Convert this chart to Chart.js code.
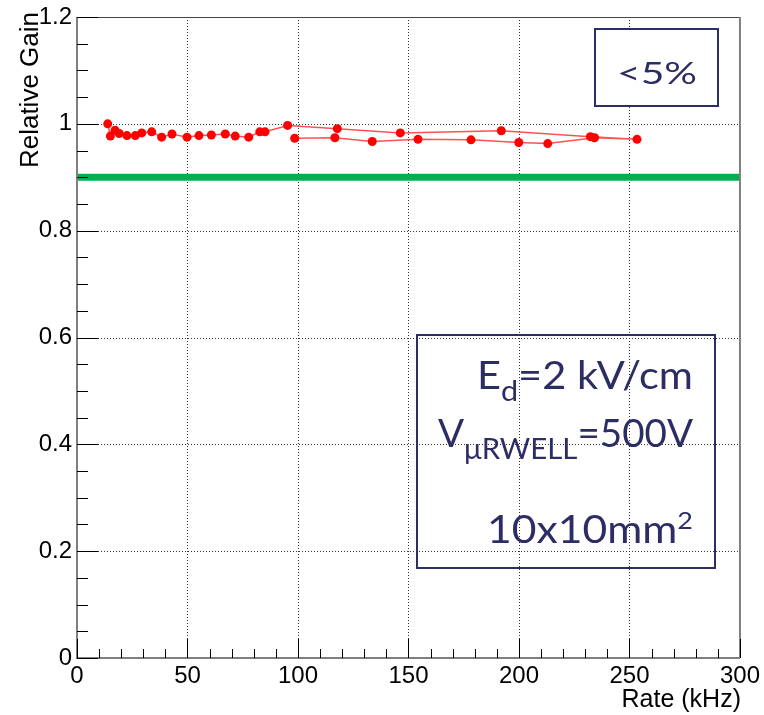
<!DOCTYPE html>
<html>
<head>
<meta charset="utf-8">
<script src="https://cdn.jsdelivr.net/npm/chart.js@4/dist/chart.umd.min.js"></script>
<style>
  html, body { margin: 0; padding: 0; background: #fff; }
  #wrap { width: 764px; height: 715px; }
</style>
</head>
<body>
<div id="wrap"><canvas id="gainChart" width="764" height="715"></canvas></div>
<script>
// Gain stability scan: measurement order (rate going up, then coming back down)
const rateKHz = [13.9, 15.1, 17.2, 19.1, 22.6, 26.4, 29.3, 33.8, 38.3, 43.0,
                 49.8, 55.2, 60.8, 67.1, 71.6, 77.7, 82.7, 85.1, 95.3, 117.8,
                 146.3, 192.0, 232.3, 253.4, 234.2, 213.0, 199.9, 178.3, 154.3, 133.6,
                 116.7, 98.5];
const relativeGain = [1.000, 0.977, 0.988, 0.982, 0.978, 0.978, 0.983, 0.985, 0.975, 0.981,
                      0.975, 0.978, 0.979, 0.981, 0.977, 0.975, 0.985, 0.985, 0.997, 0.991,
                      0.983, 0.987, 0.976, 0.971, 0.974, 0.963, 0.965, 0.970, 0.971, 0.967,
                      0.974, 0.973];

// 10% reference level
const limitRate = [0, 300];
const limitGain = [0.9, 0.9];

// Axis ticks
const xMajorTicks = [0, 50, 100, 150, 200, 250, 300];
const yMajorTicks = [0, 0.2, 0.4, 0.6, 0.8, 1.0, 1.2];
const xMinorStep = 10;
const yMinorStep = 0.05;

const LABEL_FONT = '"Liberation Sans", Arial, sans-serif';
const BOX_FONT = 'Lato, "Open Sans", sans-serif';
const NAVY = '#2d2d66';

// Draws rich text made of runs {t, size, dy}, stretched to span [right - width, right]
function drawRunsFit(ctx, runs, right, baseline, width) {
  let total = 0;
  runs.forEach(r => {
    ctx.font = r.size + 'px ' + BOX_FONT;
    r.w = ctx.measureText(r.t).width;
    total += r.w;
  });
  ctx.save();
  ctx.translate(right - width, baseline);
  ctx.scale(width / total, 1);
  ctx.textAlign = 'left';
  let x = 0;
  runs.forEach(r => {
    ctx.font = r.size + 'px ' + BOX_FONT;
    ctx.fillText(r.t, x, r.dy || 0);
    x += r.w;
  });
  ctx.restore();
}

const rootStyle = {
  id: 'rootStyle',
  beforeDatasetsDraw(chart) {
    const { ctx, chartArea: a, scales: { x, y } } = chart;
    ctx.save();
    ctx.strokeStyle = '#333';
    ctx.lineWidth = 1;
    ctx.setLineDash([1, 2]);
    xMajorTicks.slice(1, -1).forEach(v => {
      const px = Math.round(x.getPixelForValue(v)) + 0.5;
      ctx.beginPath(); ctx.moveTo(px, a.top); ctx.lineTo(px, a.bottom); ctx.stroke();
    });
    yMajorTicks.slice(1, -1).forEach(v => {
      const py = Math.round(y.getPixelForValue(v)) + 0.5;
      ctx.beginPath(); ctx.moveTo(a.left, py); ctx.lineTo(a.right, py); ctx.stroke();
    });
    ctx.restore();
  },
  afterDatasetsDraw(chart) {
    const { ctx, chartArea: a, scales: { x, y } } = chart;
    ctx.save();

    // frame
    ctx.setLineDash([]);
    ctx.strokeStyle = '#444';
    ctx.lineWidth = 1;
    ctx.beginPath(); ctx.moveTo(a.left, a.top + 0.5); ctx.lineTo(a.right, a.top + 0.5); ctx.stroke();
    ctx.strokeStyle = '#808080';
    ctx.lineWidth = 2;
    ctx.beginPath(); ctx.moveTo(a.right, a.top); ctx.lineTo(a.right, a.bottom); ctx.stroke();
    ctx.beginPath(); ctx.moveTo(a.left, a.top); ctx.lineTo(a.left, a.bottom);
    ctx.lineTo(a.right, a.bottom); ctx.stroke();

    // tick marks drawn inside the frame
    ctx.strokeStyle = '#000';
    ctx.lineWidth = 1;
    for (let v = x.min; v <= x.max + 1e-9; v += xMinorStep) {
      const major = xMajorTicks.some(m => Math.abs(m - v) < 1e-6);
      const px = Math.round(x.getPixelForValue(v)) + 0.5;
      const len = major ? 19 : 9;
      ctx.beginPath(); ctx.moveTo(px, a.bottom); ctx.lineTo(px, a.bottom - len); ctx.stroke();
    }
    for (let v = y.min; v <= y.max + 1e-9; v += yMinorStep) {
      const major = yMajorTicks.some(m => Math.abs(m - v) < 1e-6);
      const py = Math.round(y.getPixelForValue(v)) + 0.5;
      const len = major ? 21 : 11;
      ctx.beginPath(); ctx.moveTo(a.left, py); ctx.lineTo(a.left + len, py); ctx.stroke();
    }

    // axis titles
    ctx.fillStyle = '#000';
    ctx.font = '25px ' + LABEL_FONT;
    ctx.textAlign = 'right';
    ctx.textBaseline = 'alphabetic';
    ctx.fillText('Rate (kHz)', 741, 707);
    ctx.save();
    ctx.translate(38, 12);
    ctx.rotate(-Math.PI / 2);
    ctx.font = '26px ' + LABEL_FONT;
    ctx.fillText('Relative Gain', 0, 0);
    ctx.restore();

    // "<5%" box
    ctx.fillStyle = '#fff';
    ctx.fillRect(595, 29, 123, 77);
    ctx.strokeStyle = NAVY;
    ctx.lineWidth = 2;
    ctx.strokeRect(595, 29, 123, 77);
    ctx.fillStyle = NAVY;
    drawRunsFit(ctx, [{ t: '<5%', size: 30 }], 697, 84, 80);

    // conditions box
    ctx.strokeRect(417, 335, 298, 233);
    drawRunsFit(ctx, [{ t: 'E', size: 38 }, { t: 'd', size: 28, dy: 12 }, { t: '=2 kV/cm', size: 38 }], 693, 389, 216);
    drawRunsFit(ctx, [{ t: 'V', size: 38 }, { t: 'μRWELL', size: 29, dy: 12 }, { t: '=500V', size: 38 }], 693, 447, 255);
    drawRunsFit(ctx, [{ t: '10x10mm', size: 38 }, { t: '2', size: 24, dy: -14 }], 693, 543, 206);

    ctx.restore();
  }
};

new Chart(document.getElementById('gainChart'), {
  type: 'scatter',
  data: {
    datasets: [
      {
        data: rateKHz.map((r, i) => ({ x: r, y: relativeGain[i] })),
        showLine: true,
        borderColor: 'rgba(255, 40, 40, 0.8)',
        borderWidth: 1.5,
        pointRadius: 4.5,
        pointBackgroundColor: '#ff0000',
        pointBorderWidth: 0,
        order: 1
      },
      {
        data: limitRate.map((r, i) => ({ x: r, y: limitGain[i] })),
        showLine: true,
        borderColor: '#00b050',
        borderWidth: 7,
        pointRadius: 0,
        order: 2
      }
    ]
  },
  options: {
    responsive: false,
    animation: false,
    devicePixelRatio: 1,
    layout: { padding: { top: 15, right: 23, left: 0, bottom: 0 } },
    plugins: { legend: { display: false }, tooltip: { enabled: false } },
    scales: {
      x: {
        type: 'linear', min: 0, max: 300,
        afterBuildTicks: s => { s.ticks = xMajorTicks.map(v => ({ value: v })); },
        afterFit: s => { s.height = 57; },
        grid: { display: false, drawTicks: false },
        border: { display: false },
        ticks: {
          autoSkip: false, maxRotation: 0, padding: 4, color: '#000',
          font: { family: LABEL_FONT, size: 24 },
          callback: v => String(v)
        }
      },
      y: {
        type: 'linear', min: 0, max: 1.2,
        afterBuildTicks: s => { s.ticks = yMajorTicks.map(v => ({ value: v })); },
        afterFit: s => { s.width = 77; },
        grid: { display: false, drawTicks: false },
        border: { display: false },
        ticks: {
          autoSkip: false, padding: 5, color: '#000',
          font: { family: LABEL_FONT, size: 24, lineHeight: 1 },
          callback: v => String(Math.round(v * 10) / 10)
        }
      }
    }
  },
  plugins: [rootStyle]
});
</script>
</body>
</html>
